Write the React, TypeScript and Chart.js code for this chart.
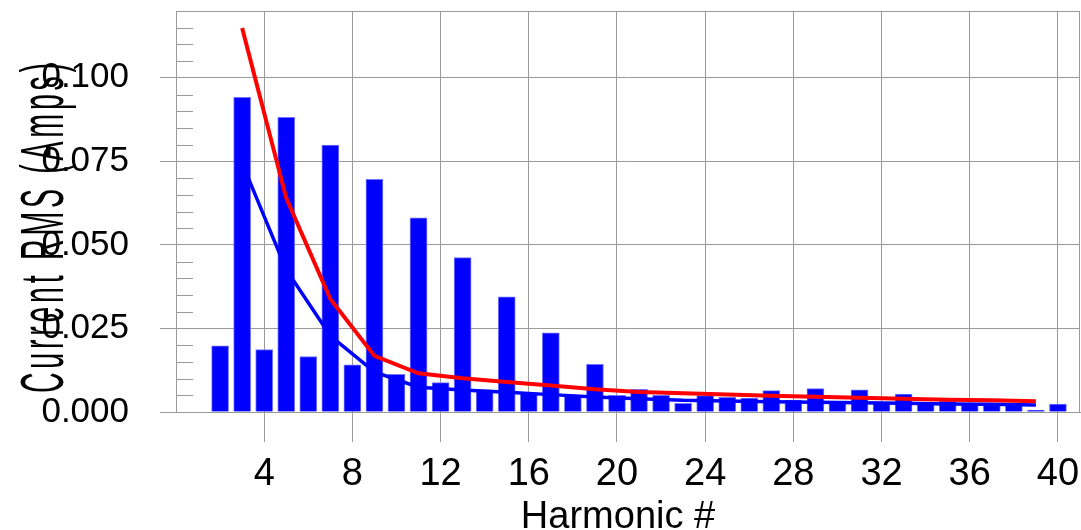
import React, { useEffect, useRef } from "react";
import { Chart, registerables } from "chart.js";

Chart.register(...registerables);

const harmonics = [
  2, 3, 4, 5, 6, 7, 8, 9, 10, 11, 12, 13, 14, 15, 16, 17, 18, 19, 20, 21,
  22, 23, 24, 25, 26, 27, 28, 29, 30, 31, 32, 33, 34, 35, 36, 37, 38, 39, 40,
];
const barValues = [
  0.0198, 0.0942, 0.0187, 0.0882, 0.0166, 0.0799, 0.0141, 0.0696, 0.0113, 0.0581,
  0.0088, 0.0462, 0.0066, 0.0345, 0.0057, 0.0237, 0.0050, 0.0143, 0.0050, 0.0068,
  0.0050, 0.0026, 0.0049, 0.0044, 0.0042, 0.0064, 0.0036, 0.0070, 0.0028, 0.0066,
  0.0026, 0.0054, 0.0024, 0.0033, 0.0024, 0.0024, 0.0024, 0.0005, 0.0024,
];
const lineHarmonics = [3, 5, 7, 9, 11, 13, 15, 17, 19, 21, 23, 25, 27, 29, 31, 33, 35, 37, 39];
const redValues = [
  0.1149, 0.0640, 0.0338, 0.0168, 0.0116, 0.0101, 0.0090, 0.0079, 0.0068, 0.0060,
  0.0056, 0.0052, 0.0049, 0.0046, 0.0043, 0.0040, 0.0037, 0.0035, 0.0032,
];
const blueValues = [
  0.0745, 0.0426, 0.0228, 0.0120, 0.0074, 0.0066, 0.0059, 0.0052, 0.0045, 0.0040,
  0.0035, 0.0033, 0.0031, 0.0029, 0.0028, 0.0026, 0.0024, 0.0023, 0.0021,
];
const xTickValues = [4, 8, 12, 16, 20, 24, 28, 32, 36, 40];
const yTickValues = [0, 0.025, 0.05, 0.075, 0.1];
const xTitle = "Harmonic #";
const yTitle = "Current RMS (Amps)";

const GRID = "#9a9a9a";
const FONT = "'Liberation Sans', Arial, sans-serif";

const decorPlugin = {
  id: "decor",
  afterDraw(chart: any) {
    const { ctx, chartArea, scales } = chart;
    const y = scales.y;
    ctx.save();
    ctx.strokeStyle = GRID;
    ctx.lineWidth = 1;
    // frame top & right
    ctx.beginPath();
    ctx.moveTo(chartArea.left, Math.round(chartArea.top) + 0.5);
    ctx.lineTo(chartArea.right, Math.round(chartArea.top) + 0.5);
    ctx.moveTo(Math.round(chartArea.right) - 0.5, chartArea.top);
    ctx.lineTo(Math.round(chartArea.right) - 0.5, chartArea.bottom);
    ctx.stroke();
    // minor ticks
    ctx.beginPath();
    for (let i = 1; i <= 24; i++) {
      if (i % 5 === 0) continue;
      const py = Math.round(y.getPixelForValue(i * 0.005)) + 0.5;
      ctx.moveTo(chartArea.left, py);
      ctx.lineTo(chartArea.left + 17, py);
    }
    ctx.stroke();
    ctx.restore();

    // y title: compressed, letter-spaced glyphs reading bottom to top
    ctx.save();
    ctx.fillStyle = "#000";
    ctx.font = `62px ${FONT}`;
    ctx.textAlign = "left";
    ctx.textBaseline = "alphabetic";
    const sx = 0.46;
    const chars = Array.from(yTitle);
    const widths = chars.map((c) => ctx.measureText(c).width * sx);
    const totalGlyph = widths.reduce((a, b) => a + b, 0);
    const total = 330;
    const gap = (total - totalGlyph) / (chars.length - 1);
    ctx.translate(63, 393);
    ctx.rotate(-Math.PI / 2);
    let pos = 0;
    chars.forEach((c, i) => {
      ctx.save();
      ctx.translate(pos, 0);
      ctx.scale(sx, 1);
      ctx.fillText(c, 0, 0);
      ctx.restore();
      pos += widths[i] + gap;
    });
    ctx.restore();

    // x title
    ctx.save();
    ctx.fillStyle = "#000";
    ctx.font = `38px ${FONT}`;
    ctx.textAlign = "center";
    ctx.textBaseline = "alphabetic";
    ctx.fillText(xTitle, 618, 528);
    ctx.restore();
  },
};

export default function App() {
  const ref = useRef<HTMLCanvasElement>(null);
  useEffect(() => {
    if (!ref.current) return;
    const chart = new Chart(ref.current, {
      type: "bar",
      data: {
        datasets: [
          {
            type: "line",
            label: "red",
            data: lineHarmonics.map((h, i) => ({ x: h, y: redValues[i] })),
            borderColor: "#ff0000",
            borderWidth: 4,
            pointRadius: 0,
            fill: false,
            order: 0,
          } as any,
          {
            type: "line",
            label: "blue",
            data: lineHarmonics.map((h, i) => ({ x: h, y: blueValues[i] })),
            borderColor: "#0000ff",
            borderWidth: 3.5,
            pointRadius: 0,
            fill: false,
            order: 1,
          } as any,
          {
            type: "bar",
            label: "bars",
            data: harmonics.map((h, i) => ({ x: h, y: barValues[i] })),
            backgroundColor: "#0000ff",
            borderColor: "#7373ff",
            borderWidth: 1,
            barThickness: 17,
            order: 2,
          } as any,
        ],
      },
      options: {
        animation: false,
        responsive: false,
        devicePixelRatio: 1,
        layout: { padding: { top: 11, right: 1, left: 0, bottom: 0 } },
        plugins: { legend: { display: false }, tooltip: { enabled: false } },
        scales: {
          x: {
            type: "linear",
            min: 0,
            max: 41,
            offset: false,
            grid: { color: GRID, tickColor: GRID, tickLength: 30, offset: false, lineWidth: 1 },
            border: { display: true, color: GRID },
            ticks: {
              stepSize: 4,
              color: "#000",
              font: { family: FONT, size: 38 },
              padding: 10,
              maxRotation: 0,
              autoSkip: false,
            },
            afterBuildTicks: (axis: any) => {
              axis.ticks = xTickValues.map((v) => ({ value: v }));
            },
            afterFit: (scale: any) => {
              scale.height = 118;
              scale.paddingLeft = 0;
              scale.paddingRight = 0;
              scale.paddingTop = 0;
              scale.paddingBottom = 0;
            },
          },
          y: {
            type: "linear",
            min: 0,
            max: 0.12,
            grid: { color: GRID, tickColor: GRID, tickLength: 16, lineWidth: 1 },
            border: { display: true, color: GRID },
            ticks: {
              color: "#000",
              font: { family: FONT, size: 35 },
              padding: 31,
              callback: (v: any) => Number(v).toFixed(3),
            },
            afterBuildTicks: (axis: any) => {
              axis.ticks = yTickValues.map((v) => ({ value: v }));
            },
            afterFit: (scale: any) => {
              scale.width = 176;
              scale.paddingTop = 0;
              scale.paddingBottom = 0;
              scale.paddingLeft = 0;
              scale.paddingRight = 0;
            },
          },
        },
      } as any,
      plugins: [decorPlugin],
    });
    return () => chart.destroy();
  }, []);
  return (
    <canvas
      ref={ref}
      width={1081}
      height={530}
      style={{ position: "absolute", left: 0, top: 0, display: "block", background: "#fff" }}
    />
  );
}
